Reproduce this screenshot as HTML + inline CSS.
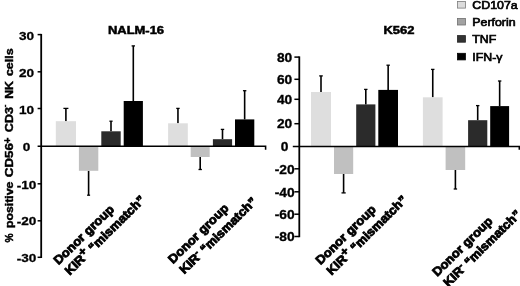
<!DOCTYPE html>
<html><head><meta charset="utf-8"><title>chart</title>
<style>
html,body{margin:0;padding:0;background:#fff;}
svg{display:block;}
text{font-family:"Liberation Sans",sans-serif;fill:#000;}
.b{font-weight:bold;}
</style></head><body>
<svg width="520" height="286" viewBox="0 0 520 286">
<rect width="520" height="286" fill="#fff"/>

<path d="M65.90 121.2V108.4" stroke="#000" stroke-width="1.6" fill="none"/>
<path d="M63.40 108.4H68.40" stroke="#000" stroke-width="1.3" fill="none"/>
<rect x="55.8" y="121.20" width="20.20" height="25.10" fill="#dedede"/>
<path d="M88.60 170.8V195.2" stroke="#000" stroke-width="1.6" fill="none"/>
<path d="M87.10 195.2H90.10" stroke="#000" stroke-width="1.3" fill="none"/>
<rect x="78.9" y="146.30" width="19.40" height="24.50" fill="#c0c0c0"/>
<path d="M111.00 131.3V121.2" stroke="#000" stroke-width="1.6" fill="none"/>
<path d="M109.40 121.2H112.60" stroke="#000" stroke-width="1.3" fill="none"/>
<rect x="101.3" y="131.30" width="19.40" height="15.00" fill="#2b2b2b"/>
<path d="M133.30 101.0V45.9" stroke="#000" stroke-width="1.6" fill="none"/>
<path d="M131.60 45.9H135.00" stroke="#000" stroke-width="1.3" fill="none"/>
<rect x="123.7" y="101.00" width="19.20" height="45.30" fill="#000000"/>
<path d="M177.95 123.3V108.4" stroke="#000" stroke-width="1.6" fill="none"/>
<path d="M176.25 108.4H179.65" stroke="#000" stroke-width="1.3" fill="none"/>
<rect x="168.1" y="123.30" width="19.70" height="23.00" fill="#dedede"/>
<path d="M200.20 157.0V169.5" stroke="#000" stroke-width="1.6" fill="none"/>
<path d="M198.50 169.5H201.90" stroke="#000" stroke-width="1.3" fill="none"/>
<rect x="190.7" y="146.30" width="19.00" height="10.70" fill="#c0c0c0"/>
<path d="M222.50 139.2V129.4" stroke="#000" stroke-width="1.6" fill="none"/>
<path d="M220.80 129.4H224.20" stroke="#000" stroke-width="1.3" fill="none"/>
<rect x="212.9" y="139.20" width="19.20" height="7.10" fill="#2b2b2b"/>
<path d="M244.65 119.4V90.7" stroke="#000" stroke-width="1.6" fill="none"/>
<path d="M242.95 90.7H246.35" stroke="#000" stroke-width="1.3" fill="none"/>
<rect x="235.0" y="119.40" width="19.30" height="26.90" fill="#000000"/>
<path d="M41.2 33.9V258.0" stroke="#000" stroke-width="1.8" fill="none"/>
<path d="M37.6 146.3H265.6V149.8" stroke="#000" stroke-width="1.55" fill="none"/>
<path d="M37.6 34.6H41.2" stroke="#000" stroke-width="1.5"/>
<text class="b" transform="translate(26.6,40.15) scale(1.15,1)" font-size="11.8" text-anchor="middle" stroke="#000" stroke-width="0.3">30</text>
<path d="M37.6 71.8H41.2" stroke="#000" stroke-width="1.5"/>
<text class="b" transform="translate(26.6,76.7) scale(1.15,1)" font-size="11.8" text-anchor="middle" stroke="#000" stroke-width="0.3">20</text>
<path d="M37.6 108.5H41.2" stroke="#000" stroke-width="1.5"/>
<text class="b" transform="translate(26.6,113.5) scale(1.15,1)" font-size="11.8" text-anchor="middle" stroke="#000" stroke-width="0.3">10</text>
<text class="b" transform="translate(26.6,150.7) scale(1.15,1)" font-size="11.8" text-anchor="middle" stroke="#000" stroke-width="0.3">0</text>
<path d="M37.6 183.8H41.2" stroke="#000" stroke-width="1.5"/>
<text class="b" transform="translate(26.6,188.6) scale(1.15,1)" font-size="11.8" text-anchor="middle" stroke="#000" stroke-width="0.3">-10</text>
<path d="M37.6 220.8H41.2" stroke="#000" stroke-width="1.5"/>
<text class="b" transform="translate(26.6,225.3) scale(1.15,1)" font-size="11.8" text-anchor="middle" stroke="#000" stroke-width="0.3">-20</text>
<path d="M37.6 257.3H41.2" stroke="#000" stroke-width="1.5"/>
<text class="b" transform="translate(26.6,261.9) scale(1.15,1)" font-size="11.8" text-anchor="middle" stroke="#000" stroke-width="0.3">-30</text>
<text class="b" transform="translate(136,34.3) scale(1.19,1)" font-size="10.9" text-anchor="middle" stroke="#000" stroke-width="0.5">NALM-16</text>
<text class="b" transform="translate(12.95,0) rotate(-90)" font-size="10.6" stroke="#000" stroke-width="0.45" xml:space="preserve"><tspan x="-242.39" y="0" textLength="9.12" lengthAdjust="spacingAndGlyphs">%</tspan> <tspan x="-228.12" y="0" textLength="46.45" lengthAdjust="spacingAndGlyphs">positive</tspan> <tspan x="-177.21" y="0" textLength="34.14" lengthAdjust="spacingAndGlyphs">CD56</tspan><tspan x="-143.4" y="-2.45" font-size="10.2">+</tspan> <tspan x="-132.18" y="0" textLength="25.16" lengthAdjust="spacingAndGlyphs">CD3</tspan><tspan x="-107.3" y="-5.75" font-size="8">-</tspan> <tspan x="-98.82" y="0" textLength="17.82" lengthAdjust="spacingAndGlyphs">NK</tspan> <tspan x="-76.07" y="0" textLength="27.59" lengthAdjust="spacingAndGlyphs">cells</tspan></text>
<g transform="translate(58.6,265.3) rotate(-44.5) scale(1.06,1)" stroke="#000" stroke-width="0.85"><text class="b" font-size="12.3">Donor group</text><text class="b" font-size="12.3" x="0.6" y="15.2">KIR<tspan dy="-4.4" font-size="11.5">+</tspan><tspan dy="4.4" font-size="12.3"> “mismatch”</tspan></text></g>
<g transform="translate(173.1,264.2) rotate(-44.5) scale(1.06,1)" stroke="#000" stroke-width="0.85"><text class="b" font-size="12.3">Donor group</text><text class="b" font-size="12.3" x="0.6" y="15.2">KIR<tspan dy="-4.4" font-size="9">-</tspan><tspan dy="4.4" font-size="12.3"> “mismatch”</tspan></text></g>
<path d="M321.00 92.0V75.9" stroke="#000" stroke-width="1.6" fill="none"/>
<path d="M319.20 75.9H322.80" stroke="#000" stroke-width="1.3" fill="none"/>
<rect x="311.0" y="92.00" width="20.00" height="54.40" fill="#dedede"/>
<path d="M343.60 174.0V192.9" stroke="#000" stroke-width="1.6" fill="none"/>
<path d="M341.50 192.9H345.70" stroke="#000" stroke-width="1.3" fill="none"/>
<rect x="334.0" y="146.40" width="19.20" height="27.60" fill="#c0c0c0"/>
<path d="M365.80 104.4V89.4" stroke="#000" stroke-width="1.6" fill="none"/>
<path d="M364.10 89.4H367.50" stroke="#000" stroke-width="1.3" fill="none"/>
<rect x="356.2" y="104.40" width="19.20" height="42.00" fill="#2b2b2b"/>
<path d="M388.15 89.9V65.2" stroke="#000" stroke-width="1.6" fill="none"/>
<path d="M386.45 65.2H389.85" stroke="#000" stroke-width="1.3" fill="none"/>
<rect x="378.3" y="89.90" width="19.70" height="56.50" fill="#000000"/>
<path d="M432.75 97.3V69.4" stroke="#000" stroke-width="1.6" fill="none"/>
<path d="M431.05 69.4H434.45" stroke="#000" stroke-width="1.3" fill="none"/>
<rect x="422.9" y="97.30" width="19.70" height="49.10" fill="#dedede"/>
<path d="M455.40 170.0V189.0" stroke="#000" stroke-width="1.6" fill="none"/>
<path d="M453.70 189.0H457.10" stroke="#000" stroke-width="1.3" fill="none"/>
<rect x="445.6" y="146.40" width="19.60" height="23.60" fill="#c0c0c0"/>
<path d="M477.70 120.2V105.6" stroke="#000" stroke-width="1.6" fill="none"/>
<path d="M476.00 105.6H479.40" stroke="#000" stroke-width="1.3" fill="none"/>
<rect x="468.1" y="120.20" width="19.20" height="26.20" fill="#2b2b2b"/>
<path d="M499.65 106.1V81.0" stroke="#000" stroke-width="1.6" fill="none"/>
<path d="M497.95 81.0H501.35" stroke="#000" stroke-width="1.3" fill="none"/>
<rect x="490.2" y="106.10" width="18.90" height="40.30" fill="#000000"/>
<path d="M299.3 56.4V237.2" stroke="#000" stroke-width="1.8" fill="none"/>
<path d="M292.8 146.4H519.3V149.8" stroke="#000" stroke-width="1.55" fill="none"/>
<path d="M294.4 57.1H299.3" stroke="#000" stroke-width="1.5"/>
<text class="b" transform="translate(284.6,61.800000000000004) scale(1.13,1)" font-size="12.2" text-anchor="middle" stroke="#000" stroke-width="0.3">80</text>
<path d="M294.4 79.3H299.3" stroke="#000" stroke-width="1.5"/>
<text class="b" transform="translate(284.6,84.0) scale(1.13,1)" font-size="12.2" text-anchor="middle" stroke="#000" stroke-width="0.3">60</text>
<path d="M294.4 99.3H299.3" stroke="#000" stroke-width="1.5"/>
<text class="b" transform="translate(284.6,104.0) scale(1.13,1)" font-size="12.2" text-anchor="middle" stroke="#000" stroke-width="0.3">40</text>
<path d="M294.4 123.7H299.3" stroke="#000" stroke-width="1.5"/>
<text class="b" transform="translate(284.6,128.4) scale(1.13,1)" font-size="12.2" text-anchor="middle" stroke="#000" stroke-width="0.3">20</text>
<text class="b" transform="translate(284.6,151.1) scale(1.13,1)" font-size="12.2" text-anchor="middle" stroke="#000" stroke-width="0.3">0</text>
<path d="M294.4 168.8H299.3" stroke="#000" stroke-width="1.5"/>
<text class="b" transform="translate(284.6,173.5) scale(1.13,1)" font-size="12.2" text-anchor="middle" stroke="#000" stroke-width="0.3">-20</text>
<path d="M294.4 191.8H299.3" stroke="#000" stroke-width="1.5"/>
<text class="b" transform="translate(284.6,196.5) scale(1.13,1)" font-size="12.2" text-anchor="middle" stroke="#000" stroke-width="0.3">-40</text>
<path d="M294.4 214.2H299.3" stroke="#000" stroke-width="1.5"/>
<text class="b" transform="translate(284.6,218.89999999999998) scale(1.13,1)" font-size="12.2" text-anchor="middle" stroke="#000" stroke-width="0.3">-60</text>
<path d="M294.4 236.5H299.3" stroke="#000" stroke-width="1.5"/>
<text class="b" transform="translate(284.6,241.2) scale(1.13,1)" font-size="12.2" text-anchor="middle" stroke="#000" stroke-width="0.3">-80</text>
<text class="b" transform="translate(399,34.3) scale(1.19,1)" font-size="10.9" text-anchor="middle" stroke="#000" stroke-width="0.5">K562</text>
<g transform="translate(320.5,265.3) rotate(-44.5) scale(1.06,1)" stroke="#000" stroke-width="0.85"><text class="b" font-size="12.3">Donor group</text><text class="b" font-size="12.3" x="0.6" y="15.2">KIR<tspan dy="-4.4" font-size="11.5">+</tspan><tspan dy="4.4" font-size="12.3"> “mismatch”</tspan></text></g>
<g transform="translate(437.2,277.1) rotate(-44.5) scale(1.06,1)" stroke="#000" stroke-width="0.85"><text class="b" font-size="12.3">Donor group</text><text class="b" font-size="12.3" x="0.6" y="15.2">KIR<tspan dy="-4.4" font-size="9">-</tspan><tspan dy="4.4" font-size="12.3"> “mismatch”</tspan></text></g>
<rect x="457.5" y="1.5000000000000004" width="7.9" height="6.6" fill="#dcdcdc" stroke="#7c7c7c" stroke-width="0.8"/>
<text class="r" transform="translate(472.3,9.2) scale(1.105,1)" font-size="11.2" text-anchor="start" stroke="#000" stroke-width="0.65">CD107a</text>
<rect x="457.5" y="18.400000000000002" width="7.9" height="6.6" fill="#a2a2a2" stroke="#707070" stroke-width="0.8"/>
<text class="r" transform="translate(472.3,26.1) scale(1.105,1)" font-size="11.2" text-anchor="start" stroke="#000" stroke-width="0.65">Perforin</text>
<rect x="457.5" y="35.6" width="7.9" height="6.6" fill="#333333" stroke="#222222" stroke-width="0.8"/>
<text class="r" transform="translate(472.3,43.3) scale(1.105,1)" font-size="11.2" text-anchor="start" stroke="#000" stroke-width="0.65">TNF</text>
<rect x="457.5" y="53.300000000000004" width="7.9" height="6.6" fill="#000000" stroke="#000000" stroke-width="0.8"/>
<text class="r" transform="translate(472.3,61.0) scale(1.105,1)" font-size="11.2" text-anchor="start" stroke="#000" stroke-width="0.65">IFN-γ</text>
</svg></body></html>
